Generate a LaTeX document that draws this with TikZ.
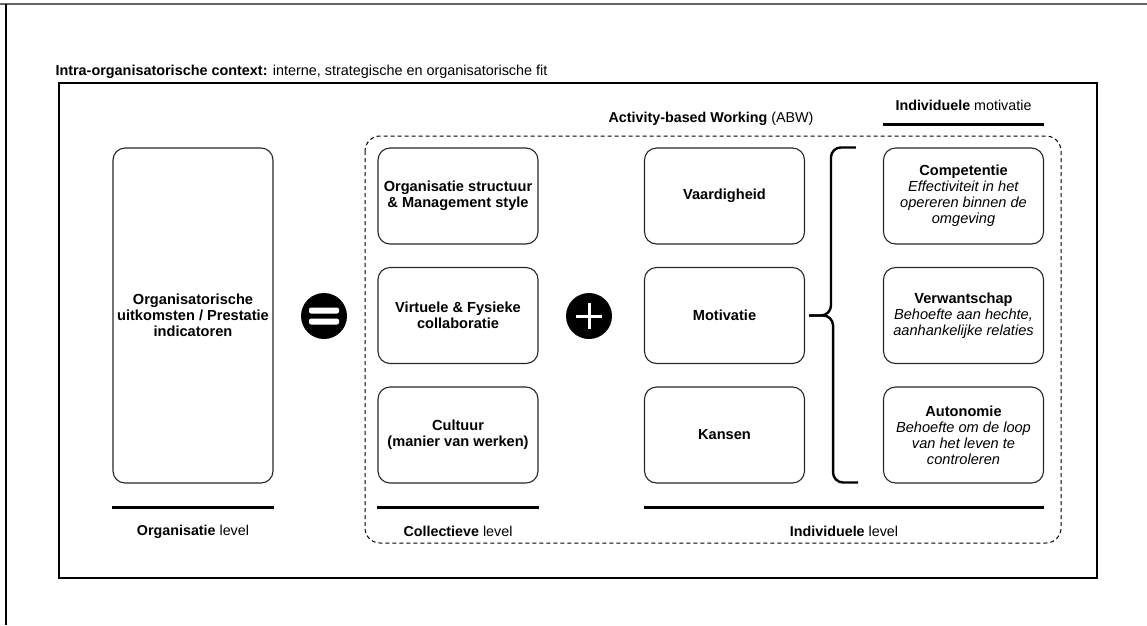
\documentclass[tikz,border=0pt]{standalone}
\usepackage{fontspec}
\setmainfont{Liberation Sans}
\usetikzlibrary{positioning}

\begin{document}
\begin{tikzpicture}[x=1pt,y=-1pt,
	blok/.style={draw=black!85, line width=1.1pt, rounded corners=12pt, align=center, font=\fontsize{14.6}{16}\selectfont, minimum width=160pt, minimum height=96pt, inner sep=2pt},
	teken/.style={circle, fill=black, minimum size=46pt, inner sep=0pt},
	streep/.style={line width=2.4pt},
	lvl/.style={font=\fontsize{14.3}{16}\selectfont},
	accolade/.style={line width=2.4pt, rounded corners=10pt}]
	\useasboundingbox (0,0) rectangle (1147,625);
	% kader
	\draw[black!60, line width=2.5pt] (0,4) -- (1147,4);
	\draw[line width=2pt] (6,4) -- (6,625);
	\draw[line width=1.3pt] (59,83) rectangle (1097,578);
	\node[anchor=base west, font=\fontsize{14.4}{16}\selectfont] (kop) at (52,75) {\textbf{Intra-organisatorische context:} interne, strategische en organisatorische fit};
	% ABW
	\draw[dash pattern=on 4pt off 3pt, line width=1pt, rounded corners=15pt] (365,136) rectangle (1061,543);
	\node[lvl] (abw) at (711,119) {\textbf{Activity-based Working} (ABW)};
	
	\node[blok, minimum height=335pt] (uitkomst) at (193,315.5) {\textbf{Organisatorische}\\ \textbf{uitkomsten / Prestatie}\\ \textbf{indicatoren}};
	\node[teken] (gelijk) at (324,316) {};
	\fill[white, rounded corners=2pt] ([shift={(-15pt,2.5pt)}]gelijk.center) rectangle ([shift={(15pt,8.5pt)}]gelijk.center);
	\fill[white, rounded corners=2pt] ([shift={(-15pt,-2.5pt)}]gelijk.center) rectangle ([shift={(15pt,-8.5pt)}]gelijk.center);
	
	\node[blok] (structuur) at (458,196) {\textbf{Organisatie structuur}\\ \textbf{\& Management style}};
	\node[blok] (collab) at (458,315.5) {\textbf{Virtuele \& Fysieke}\\ \textbf{collaboratie}};
	\node[blok] (cultuur) at (458,435) {\textbf{Cultuur}\\ \textbf{(manier van werken)}};
	\node[teken] (plus) at (589,316) {};
	\draw[white, line width=3pt] ([xshift=-13pt]plus.center) -- ([xshift=13pt]plus.center);
	\draw[white, line width=3pt] ([yshift=-13pt]plus.center) -- ([yshift=13pt]plus.center);
	
	\node[blok] (vaardigheid) at (724.5,196) {\textbf{Vaardigheid}};
	\node[blok] (motivatie) at (724.5,315.5) {\textbf{Motivatie}};
	\node[blok] (kansen) at (724.5,435) {\textbf{Kansen}};
	
	\node[blok] (competentie) at (963.5,196) {\textbf{Competentie}\\ \textit{Effectiviteit in het}\\ \textit{opereren binnen de}\\ \textit{omgeving}};
	\node[blok] (verwantschap) at (963.5,315.5) {\textbf{Verwantschap}\\ \textit{Behoefte aan hechte,}\\ \textit{aanhankelijke relaties}};
	\node[blok] (autonomie) at (963.5,435) {\textbf{Autonomie}\\ \textit{Behoefte om de loop}\\ \textit{van het leven te}\\ \textit{controleren}};
	
	% accolade
	\coordinate (punt) at ([xshift=4pt]motivatie.east);
	\draw[accolade] ([xshift=-27pt]competentie.north west) -- ++(-25,0) -- ++(0,168) -- (punt);
	\draw[accolade] (punt) -- ++(24,0) -- ++(0,167) -- ++(25,0);
	
	% levels
	\draw[streep] ([yshift=23pt]competentie.north west) -- ([yshift=23pt]competentie.north east);
	\node[lvl] (indmot) at ([yshift=42pt]competentie.north) {\textbf{Individuele} motivatie};
	\draw[streep] ([yshift=-24pt]uitkomst.south west) -- ([yshift=-24pt]uitkomst.south east);
	\draw[streep] ([yshift=-24pt]cultuur.south west) -- ([yshift=-24pt]cultuur.south east);
	\draw[streep] ([yshift=-24pt]kansen.south west) -- ([yshift=-24pt]autonomie.south east);
	\node[lvl] (orglvl) at ([yshift=-48pt]uitkomst.south) {\textbf{Organisatie} level};
	\node[lvl] (collvl) at ([yshift=-48pt]cultuur.south) {\textbf{Collectieve} level};
	\node[lvl] (indlvl) at (844,531) {\textbf{Individuele} level};
\end{tikzpicture}
\end{document}
